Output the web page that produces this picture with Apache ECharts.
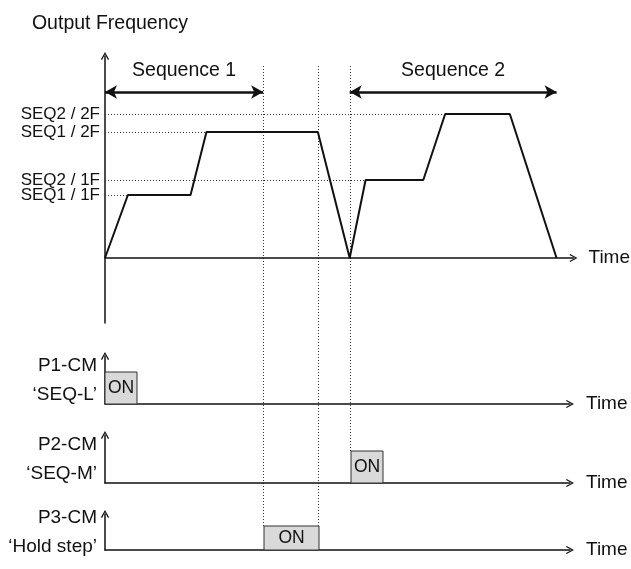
<!DOCTYPE html>
<html><head><meta charset="utf-8">
<script src="https://cdn.jsdelivr.net/npm/echarts@6/dist/echarts.min.js"></script>
<style>html,body{margin:0;padding:0;background:#fff}#c{width:631px;height:569px}</style>
</head><body><div id="c"></div>
<script>
// ---- data ----
const freqTimes  = [0, 23, 86, 102, 214, 246, 262, 320, 342, 407, 454];
const freqValues = [0, 63, 63, 126, 126, 0, 78, 78, 144, 144, 0];
const levelValues = [144, 126, 78, 63];
const levelLabels = ['SEQ2 / 2F', 'SEQ1 / 2F', 'SEQ2 / 1F', 'SEQ1 / 1F'];
const seqNames = ['Sequence 1', 'Sequence 2'];
const seqStart = [0, 246];
const seqEnd = [159, 454];
const seqLevel = 166;
const signalNames = ['P1-CM\n‘SEQ-L’', 'P2-CM\n‘SEQ-M’', 'P3-CM\n‘Hold step’'];
const onStart = [0, 246, 159];
const onEnd = [32, 278, 214];
const onLabel = 'ON';
const markerTimes = [159, 214, 246];
const markerTop = 192;
const markerSignal = [2, 2, 1];
const freqName = 'Output Frequency';
const timeName = 'Time';

// ---- style ----
const FONT = "'Liberation Sans Narrow','Arial Narrow','Liberation Sans',Arial,sans-serif";
const INK = '#111';
const CHEV = 'path://M5,0L10,9L8.6,9.8L5,2.8L1.4,9.8L0,9Z';

const chart = echarts.init(document.getElementById('c'), null, {renderer: 'canvas'});

const axisLineStyle = {show: true, symbol: ['none', CHEV], symbolSize: [9, 8], lineStyle: {color: INK, width: 1.5}};
const levelLabelStyle = (vals) => ({
  customValues: vals, margin: 5, fontSize: 17, color: INK, fontFamily: FONT,
  showMinLabel: true, showMaxLabel: true,
  formatter: v => levelLabels[levelValues.indexOf(v)] || ''
});

const grids = [{left: 105, top: 56, width: 471, height: 267}];
const xAxes = [{
  gridIndex: 0, type: 'value', min: 0, max: 471,
  axisLine: axisLineStyle, axisTick: {show: false}, axisLabel: {show: false}, splitLine: {show: false},
  name: timeName, nameGap: 15, nameTextStyle: {fontSize: 19, color: INK, fontFamily: FONT, verticalAlign: 'middle'}
}];
const yAxes = [{
  gridIndex: 0, type: 'value', min: -65, max: 202,
  axisLine: axisLineStyle, axisTick: {show: false}, splitLine: {show: false},
  axisLabel: levelLabelStyle(levelValues.filter((v, i) => i % 2 === 0)),
  name: freqName, nameLocation: 'end', nameGap: 22,
  nameTextStyle: {fontSize: 19.5, color: INK, fontFamily: FONT, padding: [0, 0, 0, 10]}
}];

const signalTops = [356, 435, 514];
signalNames.forEach((n, i) => {
  grids.push({left: 105, top: signalTops[i], width: 465, height: 48});
  xAxes.push({
    gridIndex: i + 1, type: 'value', min: 0, max: 465,
    axisLine: axisLineStyle, axisTick: {show: false}, axisLabel: {show: false}, splitLine: {show: false},
    name: timeName, nameGap: 16, nameTextStyle: {fontSize: 19, color: INK, fontFamily: FONT, verticalAlign: 'middle'}
  });
  yAxes.push({
    gridIndex: i + 1, type: 'value', min: 0, max: 1.5,
    axisLine: axisLineStyle, axisTick: {show: false}, axisLabel: {show: false}, splitLine: {show: false},
    name: n, nameLocation: 'middle', nameRotate: 0, nameGap: 8,
    nameTextStyle: {fontSize: 19, color: INK, fontFamily: FONT, align: 'right', lineHeight: 29}
  });
});
// second label track on the frequency axis (same scale) so close levels are not hidden
yAxes.push({
  gridIndex: 0, type: 'value', min: -65, max: 202, position: 'left', offset: 0,
  axisLine: {show: false}, axisTick: {show: false}, splitLine: {show: false},
  axisLabel: levelLabelStyle(levelValues.filter((v, i) => i % 2 === 1))
});

const series = [{
  type: 'line', xAxisIndex: 0, yAxisIndex: 0, symbol: 'none', z: 5,
  data: freqTimes.map((t, i) => [t, freqValues[i]]),
  lineStyle: {color: INK, width: 2},
  markLine: {
    silent: true, symbol: ['arrow', 'arrow'], symbolSize: [10, 12],
    lineStyle: {type: 'solid', color: INK, width: 2.5},
    label: {show: true, position: 'middle', formatter: '{b}', fontSize: 19.5, color: INK, fontFamily: FONT, distance: 11},
    emphasis: {disabled: true},
    data: seqNames.map((n, i) => [{name: n, coord: [seqStart[i], seqLevel]}, {coord: [seqEnd[i], seqLevel]}])
  }
}, {
  type: 'lines', coordinateSystem: 'cartesian2d', xAxisIndex: 0, yAxisIndex: 0, z: 1, silent: true,
  lineStyle: {color: '#333', width: 1, type: [1, 2], opacity: 1},
  data: levelValues.map(v => ({coords: [[0, v], [freqTimes[freqValues.indexOf(v)], v]]}))
}];
signalNames.forEach((n, i) => {
  series.push({
    type: 'custom', xAxisIndex: i + 1, yAxisIndex: i + 1, z: 4, silent: true,
    data: [[onStart[i], onEnd[i]]],
    renderItem: (params, api) => {
      const p0 = api.coord([api.value(0), 0]);
      const p1 = api.coord([api.value(1), 1]);
      return {
        type: 'rect',
        shape: {x: p0[0], y: p1[1], width: p1[0] - p0[0], height: p0[1] - p1[1]},
        style: {fill: '#d9d9d9', stroke: '#333', lineWidth: 1},
        textContent: {style: {text: onLabel, fontSize: 17.5, fill: INK, fontFamily: FONT}},
        textConfig: {position: 'inside'}
      };
    }
  });
});

chart.setOption({animation: false, grid: grids, xAxis: xAxes, yAxis: yAxes, series: series});

// dotted event markers spanning from the frequency panel down to the signal boxes
chart.setOption({
  graphic: markerTimes.map((t, i) => {
    const x = Math.round(chart.convertToPixel({xAxisIndex: 0}, t)) + 0.5;
    const y1 = chart.convertToPixel({yAxisIndex: 0}, markerTop);
    const y2 = chart.convertToPixel({yAxisIndex: markerSignal[i] + 1}, 1);
    return {type: 'line', silent: true, z: 0,
      shape: {x1: x, y1: y1, x2: x, y2: y2},
      style: {stroke: '#333', lineWidth: 1, lineDash: [1, 2]}};
  })
});
</script></body></html>
